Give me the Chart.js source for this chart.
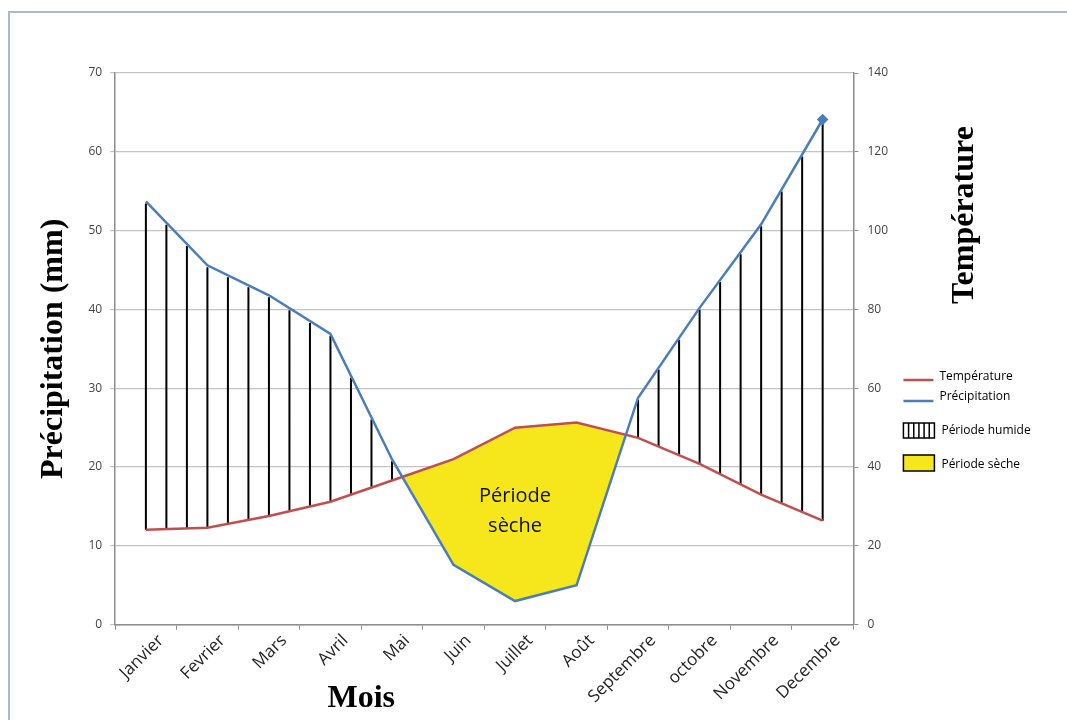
<!DOCTYPE html>
<html lang="fr">
<head>
<meta charset="utf-8">
<title>Diagramme ombrothermique</title>
<script src="https://cdn.jsdelivr.net/npm/chart.js@4.4.1/dist/chart.umd.min.js"></script>
<style>
  html, body { margin: 0; padding: 0; background: #fff; overflow: hidden; }
  #cadre {
    position: absolute; left: 8px; top: 11px; width: 1100px; height: 760px;
    border-left: 2px solid #a9bacb; border-top: 2px solid #a9bacb;
  }
  #zone { position: absolute; left: 0; top: 0; width: 1067px; height: 720px; }
</style>
</head>
<body>
<div id="cadre"></div>
<div id="zone"><canvas id="graphique" width="1067" height="720"></canvas></div>
<script>
const mois = ['Janvier', 'Fevrier', 'Mars', 'Avril', 'Mai', 'Juin', 'Juillet', 'Août',
  'Septembre', 'octobre', 'Novembre', 'Decembre'];
// précipitations en mm (axe de gauche)
const precipitation = [53.7, 45.6, 41.8, 36.9, 21.0, 7.6, 3.0, 5.0, 28.8, 40.2, 50.8, 64.1];
// température (axe de droite)
const temperature = [24.1, 24.6, 27.6, 31.2, 36.6, 42.0, 50.0, 51.3, 47.4, 40.8, 33.0, 26.4];
const ticksGauche = [0, 10, 20, 30, 40, 50, 60, 70];
const ticksDroite = [0, 20, 40, 60, 80, 100, 120, 140];

const bleu = '#4a7ebb';
const rouge = '#c0504d';
const jaune = '#f6e61c';
const police = '"Open Sans", "DejaVu Sans", sans-serif';
const policeTitre = '"Liberation Serif", "DejaVu Serif", serif';

// Hachures verticales entre les deux courbes (période humide)
const hachures = {
  id: 'hachures',
  beforeDatasetsDraw(chart) {
    const pluie = chart.getDatasetMeta(0).data;
    const temp = chart.getDatasetMeta(1).data;
    const ctx = chart.ctx;
    ctx.save();
    ctx.strokeStyle = '#000';
    ctx.lineWidth = 2;
    ctx.beginPath();
    for (let i = 0; i < pluie.length; i++) {
      const dernier = i === pluie.length - 1;
      const pas = dernier ? 1 : 3;
      for (let k = 0; k < pas; k++) {
        const t = k / 3;
        const a = pluie[i], b = dernier ? a : pluie[i + 1];
        const c = temp[i], d = dernier ? c : temp[i + 1];
        const x = a.x + (b.x - a.x) * t;
        const yP = a.y + (b.y - a.y) * t;
        const yT = c.y + (d.y - c.y) * t;
        if (yT - yP > 6) {
          ctx.moveTo(x, yP + 2);
          ctx.lineTo(x, yT);
        }
      }
    }
    ctx.stroke();
    ctx.restore();
  }
};

// Titres, annotation et légende
const textes = {
  id: 'textes',
  afterDraw(chart) {
    const ctx = chart.ctx;
    const area = chart.chartArea;
    const x = chart.scales.x;
    const y = chart.scales.y;
    ctx.save();

    // annotation au centre de la période sèche
    ctx.fillStyle = '#111';
    ctx.font = '20px ' + police;
    ctx.textAlign = 'center';
    ctx.textBaseline = 'middle';
    ctx.fillText('Période', x.getPixelForValue(6), y.getPixelForValue(16.3));
    ctx.fillText('sèche', x.getPixelForValue(6), y.getPixelForValue(12.5));

    // titre de l'axe des x
    ctx.fillStyle = '#000';
    ctx.font = 'bold 32px ' + policeTitre;
    const xMois = (x.getPixelForValue(3) + x.getPixelForValue(4)) / 2;
    ctx.fillText('Mois', xMois, 699);

    // titre de l'axe de droite
    ctx.save();
    ctx.translate(area.right + 111, area.top + 142);
    ctx.rotate(-Math.PI / 2);
    ctx.fillText('Température', 0, 0);
    ctx.restore();

    // légende
    const lx = area.right + 50;
    ctx.font = '12px ' + police;
    ctx.textAlign = 'left';
    ctx.fillStyle = '#000';
    ctx.lineWidth = 2.5;
    ctx.strokeStyle = rouge;
    ctx.beginPath(); ctx.moveTo(lx, 380); ctx.lineTo(lx + 30, 380); ctx.stroke();
    ctx.fillText('Température', lx + 36, 377);
    ctx.strokeStyle = bleu;
    ctx.beginPath(); ctx.moveTo(lx, 401); ctx.lineTo(lx + 30, 401); ctx.stroke();
    ctx.fillText('Précipitation', lx + 36, 397);

    ctx.lineWidth = 1.5;
    ctx.strokeStyle = '#000';
    ctx.strokeRect(lx, 423, 31, 15);
    ctx.beginPath();
    for (let i = 1; i <= 5; i++) {
      ctx.moveTo(lx + i * 31 / 6, 423);
      ctx.lineTo(lx + i * 31 / 6, 438);
    }
    ctx.stroke();
    ctx.fillText('Période humide', lx + 38, 431);

    ctx.fillStyle = jaune;
    ctx.fillRect(lx, 455, 31, 16);
    ctx.strokeRect(lx, 455, 31, 16);
    ctx.fillStyle = '#000';
    ctx.fillText('Période sèche', lx + 38, 465);
    ctx.restore();
  }
};

const ctx = document.getElementById('graphique').getContext('2d');

new Chart(ctx, {
  type: 'line',
  data: {
    labels: mois,
    datasets: [{
      label: 'Précipitation',
      data: precipitation,
      yAxisID: 'y',
      borderColor: bleu,
      borderWidth: 2.5,
      tension: 0,
      pointStyle: 'rectRot',
      pointRadius: precipitation.map((v, i) => i === precipitation.length - 1 ? 4 : 0),
      pointBackgroundColor: bleu,
      pointBorderColor: bleu,
      fill: { target: 1, above: 'rgba(0,0,0,0)', below: jaune }
    }, {
      label: 'Température',
      data: temperature,
      yAxisID: 'y1',
      borderColor: rouge,
      borderWidth: 2.5,
      tension: 0,
      pointRadius: 0,
      fill: false
    }]
  },
  options: {
    responsive: false,
    animation: false,
    layout: { padding: { left: 30, right: 170, top: 73, bottom: 12 } },
    plugins: {
      legend: { display: false },
      tooltip: { enabled: false },
      filler: { drawTime: 'beforeDatasetsDraw' }
    },
    scales: {
      x: {
        offset: true,
        grid: {
          offset: true,
          drawOnChartArea: false,
          drawTicks: true,
          tickLength: 5,
          color: '#8c8c8c'
        },
        border: { color: '#8c8c8c', width: 1.5 },
        ticks: {
          minRotation: 45,
          maxRotation: 45,
          padding: 1,
          labelOffset: 15,
          color: '#222',
          font: { family: police, size: 17 }
        }
      },
      y: {
        position: 'left',
        min: ticksGauche[0],
        max: ticksGauche[ticksGauche.length - 1],
        ticks: {
          stepSize: ticksGauche[1] - ticksGauche[0],
          padding: 8,
          color: '#444',
          font: { family: police, size: 12 }
        },
        grid: { color: '#c4c4c4', lineWidth: 1.2, tickLength: 5 },
        border: { color: '#8c8c8c', width: 1.5 },
        title: {
          display: true,
          text: 'Précipitation (mm)',
          color: '#000',
          padding: { top: 5, bottom: 7 },
          font: { family: policeTitre, size: 32, weight: 'bold' }
        }
      },
      y1: {
        position: 'right',
        min: ticksDroite[0],
        max: ticksDroite[ticksDroite.length - 1],
        ticks: {
          stepSize: ticksDroite[1] - ticksDroite[0],
          padding: 9,
          color: '#444',
          font: { family: police, size: 12 }
        },
        grid: { drawOnChartArea: false, tickLength: 5, color: '#8c8c8c' },
        border: { color: '#8c8c8c', width: 1.5 }
      }
    }
  },
  plugins: [hachures, textes]
});
</script>
</body>
</html>
